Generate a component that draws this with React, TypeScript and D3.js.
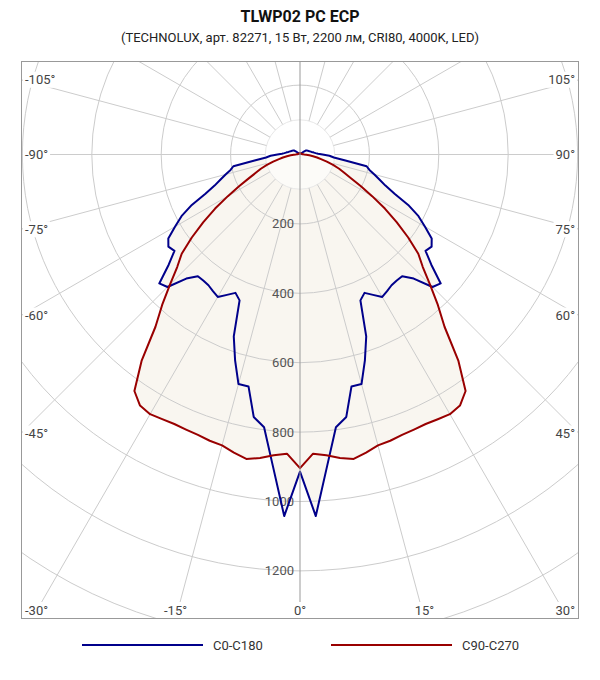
import React, { useEffect, useRef } from "react";
import * as d3 from "d3";

const title = "TLWP02 PC ECP";
const subtitle = "(TECHNOLUX, арт. 82271, 15 Вт, 2200 лм, CRI80, 4000K, LED)";

// gamma angles, 0° = nadir, step 2.5°
const gammaAngles = d3.range(0, 180.1, 2.5);

// cd values (both half planes are symmetric)
const c0c180 = [
  914, 1043, 900, 793, 768, 685, 685, 622, 558, 455,
  440, 456, 474, 467, 460, 458, 458, 485, 540, 550,
  494, 456, 463, 450, 416, 385, 344, 295, 262, 240,
  222, 205, 195, 132, 98, 85, 65, 52, 45, 41,
  38, 34, 32, 30, 28, 27, 25, 24, 23, 22,
  20, 14, 8, 5, 4, 3, 3, 3, 3, 3,
  3, 3, 3, 3, 3, 3, 3, 3, 3, 3,
  3, 3, 3,
];

const c90c270 = [
  904, 863, 870, 882, 891, 880, 868, 865, 860, 858,
  857, 860, 864, 858, 832, 750, 648, 588, 530, 480,
  445, 393, 340, 290, 240, 198, 163, 138, 120, 100,
  80, 62, 50, 38, 27, 18, 12, 10, 8, 7,
  6, 6, 5, 5, 5, 5, 5, 5, 5, 5,
  5, 5, 4, 4, 4, 4, 4, 4, 4, 4,
  4, 4, 4, 4, 4, 4, 4, 4, 4, 4,
  4, 4, 4,
];

const seriesNames = ["C0-C180", "C90-C270"];
const seriesColors = ["#00008b", "#990000"];

const ringValues = [100, 200, 400, 600, 800, 1000, 1200, 1400, 1600];
const ringLabels = [200, 400, 600, 800, 1000, 1200];
const spokeAngles = d3.range(-180, 180, 15);

function createChart(el: SVGSVGElement) {
  const svg = d3.select(el);
  svg.selectAll("*").remove();

  const font = "Roboto, 'Noto Sans', sans-serif";
  const box = { x0: 21, y0: 61, x1: 579, y1: 619 };
  const cx = 300,
    cy = 154.5;

  const r = d3.scaleLinear().domain([0, 1200]).range([0, 416.4]);

  svg.append("rect").attr("width", 600).attr("height", 680).attr("fill", "#fff");

  // titles
  svg
    .append("text")
    .attr("x", 300)
    .attr("y", 22)
    .attr("text-anchor", "middle")
    .style("font-family", font)
    .style("font-size", "16px")
    .style("font-weight", "bold")
    .attr("fill", "#111")
    .text(title);
  svg
    .append("text")
    .attr("x", 300)
    .attr("y", 42)
    .attr("text-anchor", "middle")
    .style("font-family", font)
    .style("font-size", "13px")
    .attr("fill", "#222")
    .text(subtitle);

  svg
    .append("clipPath")
    .attr("id", "plotClip")
    .append("rect")
    .attr("x", box.x0)
    .attr("y", box.y0)
    .attr("width", box.x1 - box.x0)
    .attr("height", box.y1 - box.y0);

  const plot = svg.append("g").attr("clip-path", "url(#plotClip)");
  const g = plot.append("g").attr("transform", `translate(${cx},${cy})`);

  // signed angle s: >0 right half plane (C0/C90), <0 left (C180/C270)
  const toPoints = (vals: number[]) => {
    const pts: { s: number; v: number }[] = [];
    for (let i = gammaAngles.length - 1; i > 0; i--) pts.push({ s: -gammaAngles[i], v: vals[i] });
    for (let i = 0; i < gammaAngles.length; i++) pts.push({ s: gammaAngles[i], v: vals[i] });
    return pts;
  };

  const line = d3
    .lineRadial<{ s: number; v: number }>()
    .angle((d) => Math.PI - (d.s * Math.PI) / 180)
    .radius((d) => r(d.v))
    .curve(d3.curveLinearClosed);

  const allSeries = [c0c180, c90c270];

  // fills
  allSeries.forEach((vals) => {
    g.append("path").attr("d", line(toPoints(vals))).attr("fill", "#f9f6f0");
  });

  // inner disc
  g.append("circle").attr("r", r(100)).attr("fill", "#fff").attr("fill-opacity", 0.5);

  // rings
  ringValues.forEach((v) => {
    g.append("circle")
      .attr("r", r(v))
      .attr("fill", "none")
      .attr("stroke", v === 100 ? "#e8e8e8" : "#cccccc")
      .attr("stroke-width", 1);
  });

  // spokes
  spokeAngles.forEach((s) => {
    if (s === 0 || s === -180) return;
    const a = (s * Math.PI) / 180;
    g.append("line")
      .attr("x1", r(100) * Math.sin(a))
      .attr("y1", r(100) * Math.cos(a))
      .attr("x2", r(1800) * Math.sin(a))
      .attr("y2", r(1800) * Math.cos(a))
      .attr("stroke", "#cccccc")
      .attr("stroke-width", 1);
  });
  plot
    .append("line")
    .attr("x1", cx)
    .attr("x2", cx)
    .attr("y1", box.y0)
    .attr("y2", box.y1)
    .attr("stroke", "#999")
    .attr("stroke-width", 1);

  // ring labels
  ringLabels.forEach((v) => {
    g.append("text")
      .attr("x", -6)
      .attr("y", r(v))
      .attr("dy", "0.35em")
      .attr("text-anchor", "end")
      .style("font-family", font)
      .style("font-size", "13px")
      .attr("fill", "#555")
      .text(v);
  });

  // curves
  allSeries.forEach((vals, i) => {
    g.append("path")
      .attr("d", line(toPoints(vals)))
      .attr("fill", "none")
      .attr("stroke", seriesColors[i])
      .attr("stroke-width", 2)
      .attr("stroke-linejoin", "round");
  });

  svg
    .append("rect")
    .attr("x", box.x0 + 0.5)
    .attr("y", box.y0 + 0.5)
    .attr("width", box.x1 - box.x0 - 1)
    .attr("height", box.y1 - box.y0 - 1)
    .attr("fill", "none")
    .attr("stroke", "#999");

  // angle labels where spokes meet the frame
  d3.range(-165, 181, 15).forEach((s) => {
    const a = (s * Math.PI) / 180;
    const dx = Math.sin(a),
      dy = Math.cos(a);
    const hits: { t: number; side: string }[] = [];
    if (dx < -1e-9) hits.push({ t: (box.x0 - cx) / dx, side: "left" });
    if (dx > 1e-9) hits.push({ t: (box.x1 - cx) / dx, side: "right" });
    if (dy > 1e-9) hits.push({ t: (box.y1 - cy) / dy, side: "bottom" });
    if (dy < -1e-9) hits.push({ t: (box.y0 - cy) / dy, side: "top" });
    const hit = hits.sort((p, q) => p.t - q.t)[0];
    if (hit.side === "top") return;
    const hx = cx + hit.t * dx,
      hy = cy + hit.t * dy;

    const lab = svg.append("g");
    const txt = lab
      .append("text")
      .attr("dy", "0.35em")
      .style("font-family", font)
      .style("font-size", "13px")
      .attr("fill", "#444")
      .text(`${s}°`);
    const w = (txt.node() as SVGTextElement).getComputedTextLength();
    let tx: number, ty: number;
    if (hit.side === "left") {
      tx = box.x0 + 4;
      ty = hy;
    } else if (hit.side === "right") {
      tx = box.x1 - 4 - w;
      ty = hy;
    } else {
      tx = Math.max(box.x0 + 4, Math.min(box.x1 - 4 - w, hx - w / 2));
      ty = box.y1 - 9;
    }
    txt.attr("x", tx).attr("y", ty);
    lab
      .insert("rect", "text")
      .attr("x", tx - 2)
      .attr("y", ty - 8)
      .attr("width", w + 4)
      .attr("height", 16)
      .attr("fill", "#fff");
  });

  // legend
  const legendX = [82, 331];
  seriesNames.forEach((name, i) => {
    const lg = svg.append("g").attr("transform", `translate(${legendX[i]},645)`);
    lg.append("line")
      .attr("x1", 0)
      .attr("x2", 121)
      .attr("stroke", seriesColors[i])
      .attr("stroke-width", 2);
    lg.append("text")
      .attr("x", 131)
      .attr("dy", "0.35em")
      .style("font-family", font)
      .style("font-size", "13px")
      .attr("fill", "#333")
      .text(name);
  });
}

export default function App() {
  const ref = useRef<SVGSVGElement>(null);
  useEffect(() => {
    if (ref.current) createChart(ref.current);
  }, []);
  return (
    <div style={{ position: "absolute", left: 0, top: 0 }}>
      <svg ref={ref} width={600} height={680} style={{ display: "block" }} />
    </div>
  );
}
